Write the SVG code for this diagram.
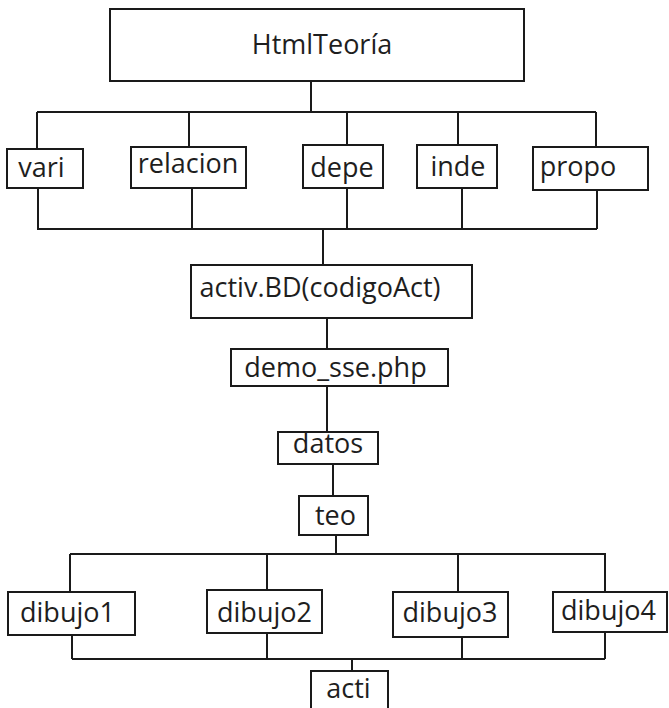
<svg xmlns="http://www.w3.org/2000/svg" width="669" height="708" viewBox="0 0 669 708">
  <style>
    .box { fill: #ffffff; stroke: #1a1a1a; stroke-width: 2; }
    .lbl { font-family: "Open Sans", "Noto Sans", "Liberation Sans", sans-serif; font-size: 27px; fill: #1e1e1e; text-anchor: middle; }
    .wire { fill: none; stroke: #1a1a1a; stroke-width: 2; }
  </style>
  <rect width="669" height="708" fill="#ffffff"/>

  <!-- connectors -->
  <g id="connectors" class="wire">
    <path d="M311 81 V112 M37 112 H596 M37 112 V149 M189 112 V147 M347 112 V145 M458 112 V145 M596 112 V147"/>
    <path d="M38 188 V229 M192 188 V229 M347 188 V229 M462 188 V229 M597 190 V229 M37 229 H597 M323 229 V265"/>
    <path d="M327 318 V349 M327 386 V432 M333 464 V496 M336 535 V554"/>
    <path d="M70 554 H606 M70 554 V592 M267 554 V590 M458 554 V592 M605 554 V592"/>
    <path d="M72 635 V659 M267 633 V659 M462 637 V659 M605 632 V659 M72 659 H605 M352 659 V671"/>
  </g>

  <g id="htmlteoria">
    <rect class="box" x="110" y="9" width="414" height="72"/>
    <text class="lbl" x="322" y="54">HtmlTeoría</text>
  </g>
  <g id="vari">
    <rect class="box" x="7" y="149" width="76" height="39"/>
    <text class="lbl" x="41.5" y="177">vari</text>
  </g>
  <g id="relacion">
    <rect class="box" x="131" y="147" width="115" height="41"/>
    <text class="lbl" x="188" y="173">relacion</text>
  </g>
  <g id="depe">
    <rect class="box" x="303" y="145" width="80" height="43"/>
    <text class="lbl" x="342" y="177">depe</text>
  </g>
  <g id="inde">
    <rect class="box" x="417" y="145" width="80" height="43"/>
    <text class="lbl" x="458" y="176">inde</text>
  </g>
  <g id="propo">
    <rect class="box" x="533" y="147" width="115" height="43"/>
    <text class="lbl" x="578" y="176">propo</text>
  </g>
  <g id="activ">
    <rect class="box" x="191" y="265" width="281" height="53"/>
    <text class="lbl" x="320" y="297">activ.BD(codigoAct)</text>
  </g>
  <g id="demo-sse">
    <rect class="box" x="231" y="349" width="217" height="37"/>
    <text class="lbl" x="335.5" y="377">demo_sse.php</text>
  </g>
  <g id="datos">
    <rect class="box" x="278" y="432" width="100" height="32"/>
    <text class="lbl" x="328" y="453">datos</text>
  </g>
  <g id="teo">
    <rect class="box" x="299" y="496" width="69" height="39"/>
    <text class="lbl" x="335.5" y="525">teo</text>
  </g>
  <g id="dibujo1">
    <rect class="box" x="8" y="592" width="127" height="43"/>
    <text class="lbl" x="67.5" y="622">dibujo1</text>
  </g>
  <g id="dibujo2">
    <rect class="box" x="207" y="590" width="115" height="43"/>
    <text class="lbl" x="264.5" y="622">dibujo2</text>
  </g>
  <g id="dibujo3">
    <rect class="box" x="393" y="592" width="115" height="45"/>
    <text class="lbl" x="450" y="622">dibujo3</text>
  </g>
  <g id="dibujo4">
    <rect class="box" x="553" y="592" width="114" height="40"/>
    <text class="lbl" x="608.5" y="620">dibujo4</text>
  </g>
  <g id="acti">
    <rect class="box" x="311" y="671" width="77" height="45"/>
    <text class="lbl" x="348.5" y="698">acti</text>
  </g>
</svg>
